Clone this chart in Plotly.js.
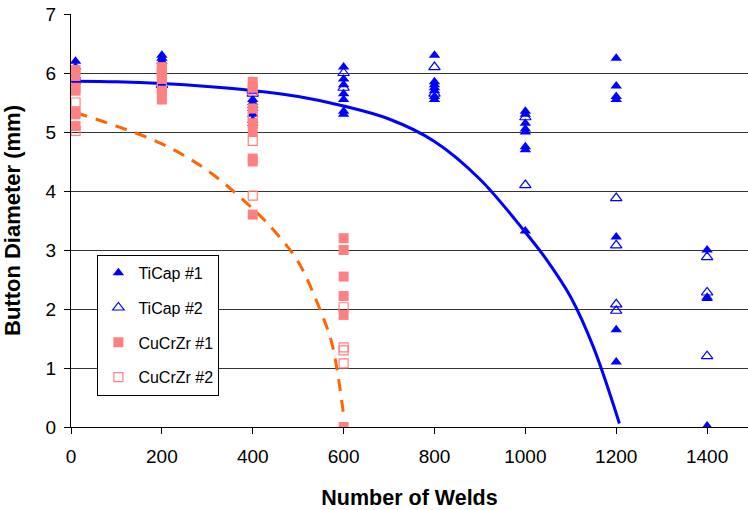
<!DOCTYPE html>
<html>
<head>
<meta charset="utf-8">
<script src="https://cdn.plot.ly/plotly-3.0.1.min.js"></script>
<style>html,body{margin:0;padding:0;background:#fff;}#chart{width:748px;height:510px;}</style>
</head>
<body>
<div id="chart"></div>
<script>
// TiCap #1 (filled triangles)
const ti1X = [10,10,10,10, 200,200,200,200, 400,400,400,400,400,400,400, 600,600,600,600,600,600,600, 800,800,800,800,800,800,800, 1000,1000,1000,1000,1000,1000,1000,1000, 1200,1200,1200,1200,1200,1200,1200, 1400,1400,1400,1400];
const ti1Y = [6.2,6.1,5.95,5.85, 6.3,6.25,6.2,5.8, 5.55,5.5,5.45,5.4,5.3,5.2,5.15, 6.1,5.9,5.8,5.65,5.55,5.35,5.3, 6.3,5.85,5.8,5.75,5.7,5.6,5.55, 5.35,5.3,5.15,5.05,5.0,4.75,4.7,3.32, 6.25,5.78,5.6,5.55,3.22,1.65,1.1, 3.0,2.2,2.18,0.0];
// TiCap #2 (open triangles)
const ti2X = [10, 200, 400,400, 600,600, 800,800, 1000,1000, 1200,1200,1200,1200, 1400,1400,1400,1400];
const ti2Y = [5.9, 5.8, 5.7,5.65, 6.0,5.75, 6.1,5.65, 5.25,4.1, 3.88,3.08,2.08,1.97, 2.88,2.28,1.2,0.0];
// CuCrZr #1 (filled squares)
const cu1X = [10,10,10,10,10,10,10, 200,200,200,200,200,200, 400,400,400,400,400,400,400,400, 600,600,600,600,600,600];
const cu1Y = [6.05,5.95,5.75,5.7,5.35,5.3,5.1, 6.1,6.0,5.95,5.9,5.7,5.55, 5.85,5.75,5.4,5.15,5.0,4.55,4.5,3.6, 3.2,3.0,2.55,2.22,1.9,0.0];
// CuCrZr #2 (open squares)
const cu2X = [10,10, 200,200, 400,400,400,400, 600,600,600,600];
const cu2Y = [5.5,5.02, 5.75,6.05, 5.7,5.25,4.85,3.92, 2.03,1.35,1.3,1.08];
// Trend curves
const tiFitX = [10,100,200,300,400,500,600,700,800,900,1000,1050,1100,1150,1207];
const tiFitY = [5.86,5.85,5.82,5.77,5.70,5.60,5.44,5.22,4.84,4.2,3.3,2.8,2.2,1.35,0.06];
const cuFitX = [10,100,200,300,400,450,500,550,575,600];
const cuFitY = [5.33,5.1,4.8,4.35,3.7,3.3,2.8,1.95,1.39,0.2];
const xTicks = [0,200,400,600,800,1000,1200,1400];

const blue = '#0000FF', pink = '#FF8080', orange = '#FF6600';
const traces = [
  {x: tiFitX, y: tiFitY, mode: 'lines', line: {color: blue, width: 3, shape: 'spline'}, showlegend: false, hoverinfo: 'skip'},
  {x: cuFitX, y: cuFitY, mode: 'lines', line: {color: orange, width: 3, dash: '12px,9px', shape: 'spline'}, showlegend: false, hoverinfo: 'skip'},
  {x: ti1X, y: ti1Y, mode: 'markers', name: 'TiCap #1', legendgroup: 'a', marker: {symbol: 'triangle-up', size: 10, color: blue, line: {width: 0}}},
  {x: ti2X, y: ti2Y, mode: 'markers', name: 'TiCap #2', legendgroup: 'b', marker: {symbol: 'triangle-up-open', size: 10, color: blue, line: {width: 1.2}}},
  {x: cu1X, y: cu1Y, mode: 'markers', name: 'CuCrZr #1', legendgroup: 'c', marker: {symbol: 'square', size: 10, color: pink, line: {width: 0}}},
  {x: cu2X, y: cu2Y, mode: 'markers', name: 'CuCrZr #2', legendgroup: 'd', marker: {symbol: 'square-open', size: 9, color: pink, line: {width: 1.2}}}
];
const font = {family: 'Liberation Sans, Arial, sans-serif', color: '#000'};
const layout = {
  width: 748, height: 510,
  margin: {l: 71, r: 0, t: 14, b: 83},
  paper_bgcolor: '#fff', plot_bgcolor: '#fff',
  font: Object.assign({size: 16}, font),
  showlegend: true,
  legend: {x: 0.039, y: 0.417, xanchor: 'left', yanchor: 'top', bgcolor: '#fff', bordercolor: '#000', borderwidth: 1,
           font: Object.assign({size: 16}, font), tracegroupgap: 11, traceorder: 'grouped'},
  xaxis: {range: [0, 1490], tickvals: xTicks, ticktext: xTicks.map(String), showgrid: false, zeroline: false,
          showline: true, linecolor: '#000', linewidth: 1, ticks: 'outside', ticklen: 6, tickcolor: '#000',
          tickfont: Object.assign({size: 19}, font), ticklabelstandoff: 6, automargin: true,
          title: {text: '<b>Number of Welds</b>', font: Object.assign({size: 21.5}, font), standoff: 25}},
  yaxis: {range: [0, 7], dtick: 1, showgrid: true, gridcolor: '#333', gridwidth: 1, zeroline: false,
          showline: true, linecolor: '#000', linewidth: 1, ticks: 'outside', ticklen: 6, tickcolor: '#000',
          tickfont: Object.assign({size: 19}, font), ticklabelstandoff: 4,
          title: {text: '<b>Button Diameter (mm)</b>', font: Object.assign({size: 22}, font)}}
};
Plotly.newPlot('chart', traces, layout, {displayModeBar: false, staticPlot: true});
</script>
</body>
</html>
